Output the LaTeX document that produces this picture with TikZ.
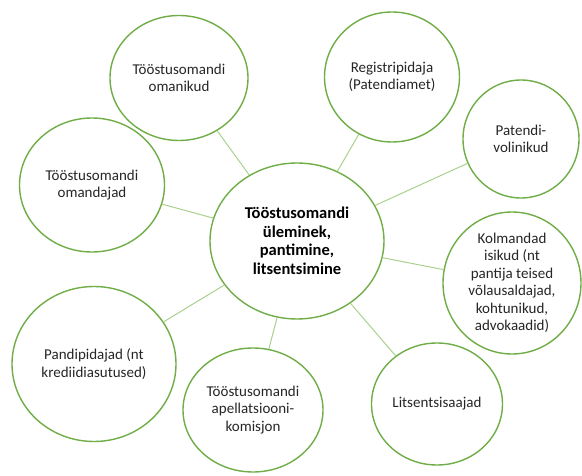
\documentclass[tikz,border=0pt]{standalone}
\usepackage{fontspec}
\setmainfont{Carlito}
\usetikzlibrary{shapes.geometric}
\definecolor{ringgreen}{HTML}{70AD47}
\definecolor{linkgreen}{HTML}{A9D18E}
\tikzset{
  ring/.style={ellipse,draw=ringgreen,line width=1.4pt,fill=white,align=center,inner sep=0pt,text=black!85,font=\fontsize{15}{17.5}\selectfont},
  link/.style={draw=linkgreen,line width=1pt}
}

\begin{document}
\begin{tikzpicture}[x=1pt,y=-1pt]
\useasboundingbox (0,0) rectangle (582,476);

\node [ring,minimum width=174pt,minimum height=156pt,font=\fontsize{16.5}{18.5}\selectfont\bfseries,text=black] (hub) at (297,241) {Tööstusomandi\\üleminek,\\pantimine,\\litsentsimine};

\node [ring,minimum width=138pt,minimum height=125pt] (omanikud) at (179,78) {Tööstusomandi\\omanikud};
\node [ring,minimum width=145pt,minimum height=134pt] (omandajad) at (92,185) {Tööstusomandi\\omandajad};
\node [ring,minimum width=135pt,minimum height=130pt] (registri) at (392,77) {Registripidaja\\(Patendiamet)};
\node [ring,minimum width=116pt,minimum height=118pt] (volinikud) at (521,139) {Patendi-\\volinikud};
\node [ring,minimum width=138pt,minimum height=142pt,inner sep=-4pt] (kolmandad) at (512,283) {Kolmandad\\isikud (nt\\pantija teised\\võlausaldajad,\\kohtunikud,\\advokaadid)};
\node [ring,minimum width=131pt,minimum height=122pt] (litsents) at (437,404) {Litsentsisaajad};
\node [ring,minimum width=140pt,minimum height=124pt] (komisjon) at (253,410) {Tööstusomandi\\apellatsiooni-\\komisjon};
\node [ring,minimum width=164pt,minimum height=155pt] (pandi) at (94,364) {Pandipidajad (nt\\krediidiasutused)};

\draw [link] (hub) -- (omanikud);
\draw [link] (hub) -- (omandajad);
\draw [link] (hub) -- (registri);
\draw [link] (hub) -- (volinikud);
\draw [link] (hub) -- (kolmandad);
\draw [link] (hub) -- (litsents);
\draw [link] (hub) -- (komisjon);
\draw [link] (hub) -- (pandi);
\end{tikzpicture}
\end{document}
